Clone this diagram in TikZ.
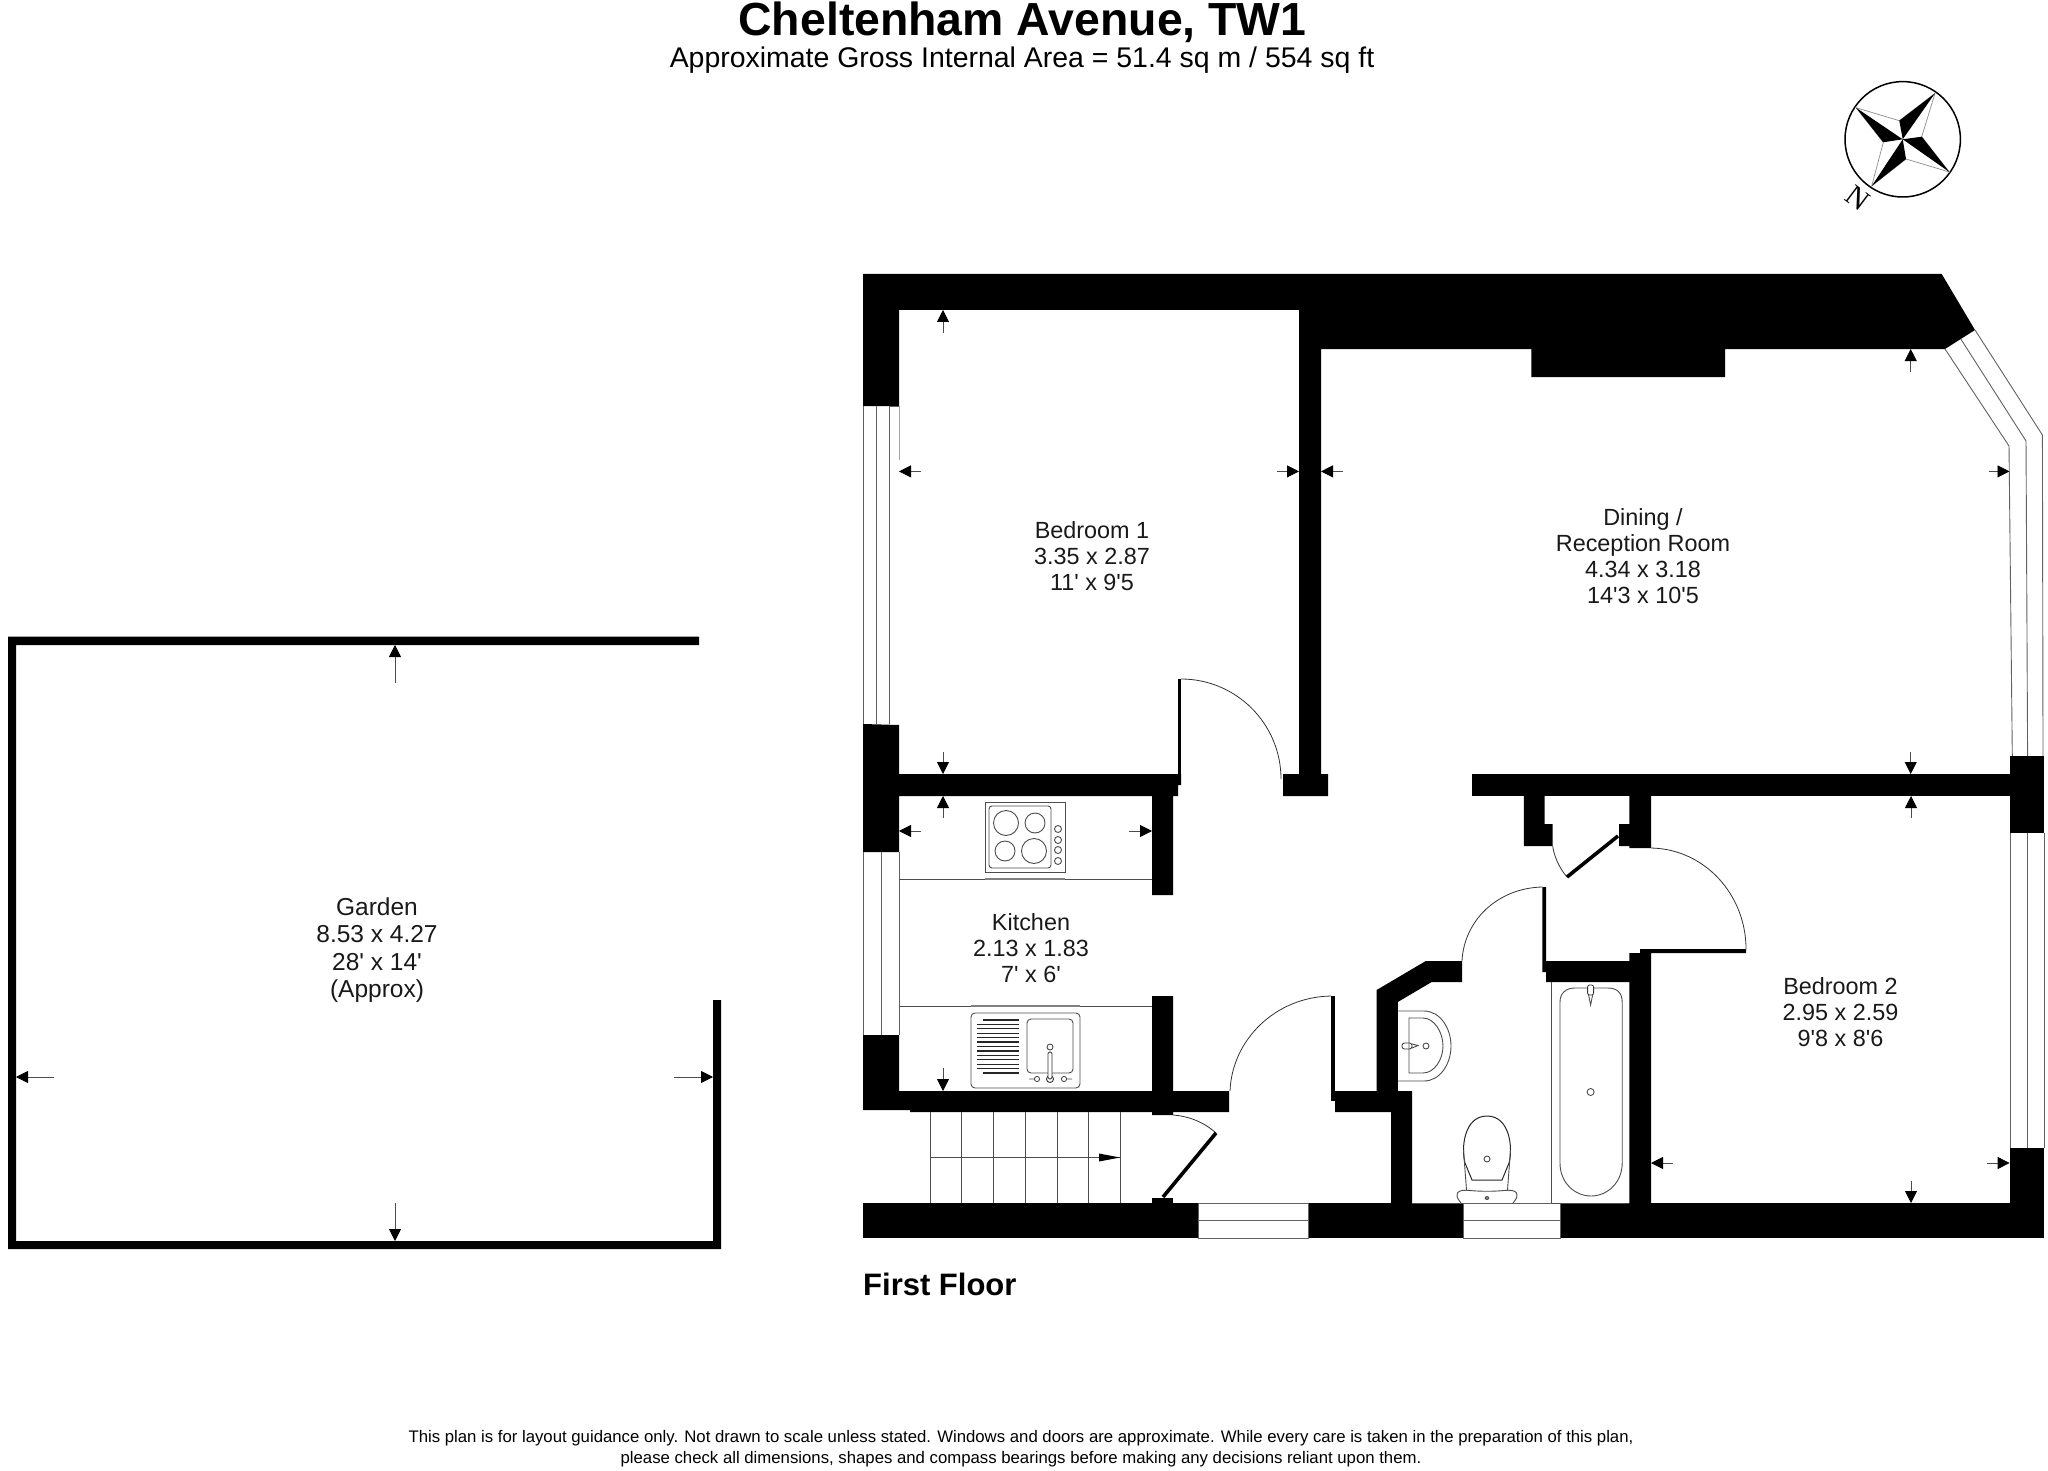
\documentclass[tikz,border=0pt]{standalone}
\usepackage{fontspec}
\setmainfont{Liberation Sans}
\newfontfamily\plainsans{Liberation Sans}
\newfontfamily\serifN{Liberation Serif}
\usetikzlibrary{arrows.meta}
\tikzset{
  wall/.style={fill=black,draw=none},
  thin line/.style={draw=black!62,line width=0.9pt},
  fix line/.style={draw=black!70,line width=0.9pt},
  door arc/.style={draw=black!80,line width=0.8pt},
  leaf/.style={draw=black,line width=3.6pt},
  dim/.style={draw=black!70,line width=0.8pt,-{Triangle[length=12pt,width=12pt,color=black]}},
  label/.style={align=center,font=\plainsans\fontsize{23.4}{26}\selectfont,inner sep=0pt,text=black!90},
}
\begin{document}
\begin{tikzpicture}[x=1pt,y=-1pt]
\useasboundingbox (0,0) rectangle (2048,1471);
% Headings
\node[inner sep=0pt,font=\bfseries\fontsize{46.4}{50}\selectfont] (title) at (1022.5,22) {Cheltenham Avenue, TW1};
\node[inner sep=0pt,font=\fontsize{28.45}{32}\selectfont] (sub) at (1022,60.5) {Approximate Gross Internal Area = 51.4 sq m / 554 sq ft};
\node[inner sep=0pt,anchor=west,font=\bfseries\fontsize{31}{34}\selectfont] (floor) at (863,1284) {First Floor};
\node[inner sep=0pt,align=center,font=\fontsize{16.75}{21}\selectfont] (foot) at (1021,1448.6) {This plan is for layout guidance only. Not drawn to scale unless stated. Windows and doors are approximate. While every care is taken in the preparation of this plan,\\ please check all dimensions, shapes and compass bearings before making any decisions reliant upon them.};
% Compass
\coordinate (cc) at (1902.7,139.3);
\draw[black,line width=1.5pt] (cc) circle[radius=57.7];
\draw[black!45,line width=0.7pt] (1935,93.3)--(1921.7,136.7)--(1949.3,172)--(1906,159)--(1871.7,186)--(1883.3,142.3)--(1856,107.7)--(1899.3,120.7)--cycle;
\fill (1935,93.3)--(1899.3,120.7)--(cc)--cycle;
\fill (1949.3,172)--(1921.7,136.7)--(cc)--cycle;
\fill (1871.7,186)--(1906,159)--(cc)--cycle;
\fill (1856,107.7)--(1883.3,142.3)--(cc)--cycle;
\node[inner sep=0pt,rotate=-37,font=\serifN\fontsize{29.5}{30}\selectfont] (north) at (1857.7,198.3) {N};
% Garden
\fill[wall] (8,636.7)--(699,636.7)--(699,645)--(16,645)--(16,1241)--(713,1241)--(713,1000)--(721,1000)--(721,1249)--(8,1249)--cycle;
% Main walls
\fill[wall] (863,274)--(1941.7,274)--(1975,330)--(1945,349)--(1725,349)--(1725,377)--(1531.4,377)--(1531.4,349)--(1321,349)--(1321,774)--(1328,774)--(1328,796)--(1283,796)--(1283,774)--(1299,774)--(1299,310)--(899,310)--(899,406)--(863,406)--cycle;
\fill[wall] (863,724)--(899,725)--(899,774)--(1181,774)--(1181,785)--(1178,785)--(1178,796)--(1173,796)--(1173,895)--(1152,895)--(1152,796)--(899,796)--(899,852)--(863,852)--cycle;
\fill[wall] (1178,679) rectangle (1181,785);
\fill[wall] (863,1035)--(899,1035)--(899,1091)--(1152,1091)--(1152,996)--(1173,996)--(1173,1091)--(1229,1091)--(1229,1112)--(1173,1112)--(1173,1115)--(1152,1115)--(1152,1112)--(910,1112)--(910,1110)--(863,1110)--cycle;
\fill[wall] (1331,996) rectangle (1335,1101);
\fill[wall] (1335,1091)--(1376.6,1091)--(1376.6,990)--(1425.8,961)--(1462,961)--(1462,982)--(1431.7,982)--(1397.8,1002)--(1397.8,1091)--(1412,1091)--(1412,1203)--(1391,1203)--(1391,1112)--(1335,1112)--cycle;
\fill[wall] (863,1203) rectangle (1198,1238);
\fill[wall] (1308,1203) rectangle (1463,1238);
\fill[wall] (1560,1203) rectangle (2044.4,1238);
\fill[wall] (1152,1198) rectangle (1173,1203);
\fill[wall] (2009.6,1148) rectangle (2044.4,1203);
\fill[wall] (2009.6,756) rectangle (2044.4,833);
\fill[wall] (1472,774) rectangle (2010,796);
\fill[wall] (1523.8,796)--(1544.5,796)--(1544.5,824)--(1552.7,824)--(1552.7,846)--(1523.8,846)--cycle;
\fill[wall] (1629.4,796)--(1651,796)--(1651,848)--(1629.4,848)--(1629.4,846)--(1619,846)--(1619,824)--(1629.4,824)--cycle;
\fill[wall] (1542.3,887)--(1546,887)--(1546,961)--(1629.4,961)--(1629.4,953)--(1640,953)--(1640,949)--(1746,949)--(1746,953)--(1651,953)--(1651,1203)--(1629.4,1203)--(1629.4,982)--(1546,982)--(1546,972)--(1542.3,972)--cycle;
% Windows
\draw[thin line] (863,406)--(863,724) (876,406)--(876,724) (889,406)--(889,724) (889,406)--(899,406);
\draw[black!35,line width=0.7pt] (899,406)--(899,460);
\draw[thin line] (863,852)--(863,1035) (881,852)--(881,1035) (899,852)--(899,1035);
\draw[thin line] (2010,833)--(2010,1148) (2027,833)--(2027,1148) (2044,833)--(2044,1148);
\draw[thin line] (1198,1203) rectangle (1308,1238) (1198,1220)--(1308,1220);
\draw[thin line] (1463,1203) rectangle (1560,1238) (1463,1220)--(1560,1220);
\draw[thin line] (1945,349)--(2009,446)--(2012.3,756);
\draw[thin line] (1960.8,339)--(2026,441)--(2027.6,756);
\draw[thin line] (1975,330)--(2042.4,435)--(2043,756);
% Doors
\draw[door arc] (1181,679) arc[start angle=-90,end angle=0,radius=100];
\draw[door arc] (1230,1091) .. controls (1232,1040) and (1275,997) .. (1331,996);
\draw[door arc] (1173,1115) .. controls (1188,1116) and (1204,1122) .. (1216,1133);
\draw[leaf] (1216,1133)--(1163,1197);
\draw[door arc] (1651,848) .. controls (1705,849) and (1746,895) .. (1746,949);
\draw[door arc] (1462,961) .. controls (1464,920) and (1498,888) .. (1542.3,887);
\draw[door arc] (1552.7,846) .. controls (1553.7,855) and (1559,868) .. (1567,877);
\draw[leaf] (1618,836)--(1567,877);
% Stairs
\draw[fix line] (930.4,1112)--(930.4,1203) (961.8,1112)--(961.8,1203) (993.6,1112)--(993.6,1203) (1025,1112)--(1025,1203) (1057,1112)--(1057,1203) (1088.6,1112)--(1088.6,1203) (1120.4,1112)--(1120.4,1203);
\draw[fix line] (930.4,1157.5)--(1120.4,1157.5);
\fill (1099,1153.5)--(1120,1157.5)--(1099,1161.5)--cycle;
% Kitchen fittings
\draw[fix line] (899,879.5)--(1152,879.5) (899,1006)--(1152,1006);
\draw[black!50,line width=2pt] (985,878.5)--(1065,878.5) (971,1005.5)--(1080,1005.5);
\draw[fix line] (985,802) rectangle (1065,872);
\draw[fix line,rounded corners=3pt] (989,806) rectangle (1051,868);
\draw[fix line] (1006,823) circle[radius=12.5] (1035,823) circle[radius=10] (1005,851) circle[radius=10] (1034,851) circle[radius=12.5];
\draw[fix line] (1058,829) circle[radius=3.5] (1058,840) circle[radius=3.5] (1058,850) circle[radius=3.5] (1058,861) circle[radius=3.5];
\draw[fix line,rounded corners=4pt] (971,1013) rectangle (1080,1088);
\draw[fix line,rounded corners=4pt] (1027,1019) rectangle (1073,1073);
\draw[black!85,line width=1.1pt] (983,1020)--(1019,1020) (977,1024.4)--(1019,1024.4) (977,1028.8)--(1019,1028.8) (977,1033.2)--(1019,1033.2) (977,1037.6)--(1019,1037.6) (977,1042)--(1019,1042) (977,1046.5)--(1019,1046.5) (977,1051)--(1019,1051) (977,1055.4)--(1019,1055.4) (977,1059.8)--(1019,1059.8) (977,1064.2)--(1019,1064.2) (977,1068.6)--(1019,1068.6) (983,1073)--(1019,1073);
\draw[fix line] (1050,1047) circle[radius=3];
\draw[fill=white,draw=black!80,line width=0.9pt] (1050,1079) circle[radius=3.5];
\draw[fill=white,draw=black!80,line width=0.9pt,rounded corners=1.5pt] (1048,1052) rectangle (1052,1079);
\draw[fix line] (1037,1079) circle[radius=2.6] (1064,1079) circle[radius=2.6] (1034.5,1079)--(1029,1079) (1066.5,1079)--(1072,1079);
% Bathroom fittings
\draw[fix line] (1551.5,982)--(1551.5,1203) (1412,1203)--(1463,1203);
\draw[fix line] (1551.5,1203)--(1629.4,1203);
\draw[fix line] (1575,988)--(1608,988) .. controls (1617,988) and (1622.2,993) .. (1622.2,1002) -- (1622.2,1163) .. controls (1622.2,1183) and (1607,1196) .. (1591,1196) .. controls (1575,1196) and (1560,1183) .. (1560,1163) -- (1560,1002) .. controls (1560,993) and (1566,988) .. (1575,988) -- cycle;
\draw[fill=white,draw=black!80,line width=0.8pt,rounded corners=2pt] (1587.6,985) rectangle (1593.6,995);
\draw[fix line] (1588.6,995)--(1590.6,1005)--(1592.6,995);
\draw[fix line] (1590.6,1092) circle[radius=3.5];
\draw[fix line] (1398,1011)--(1424,1011) .. controls (1440,1011) and (1451,1028) .. (1451,1046) .. controls (1451,1064) and (1440,1081) .. (1424,1081) -- (1398,1081);
\draw[fix line] (1409,1018)--(1423,1018) .. controls (1434,1018) and (1443,1032) .. (1443,1046) .. controls (1443,1060) and (1434,1073) .. (1423,1073) -- (1409,1073) -- cycle;
\draw[fix line] (1426,1046) circle[radius=3];
\draw[fill=white,draw=black!80,line width=0.8pt,rounded corners=2.5pt] (1402,1043) rectangle (1412,1049);
\draw[fix line] (1412,1044)--(1418,1045.5)--(1412,1048) (1409,1043)--(1409,1049);
\draw[black!85,line width=1pt] (1472,1180)--(1502,1180)--(1509,1163) .. controls (1513,1148) and (1510,1116) .. (1487,1116) .. controls (1464,1116) and (1461,1148) .. (1465,1163) -- cycle;
\draw[fix line] (1463.5,1150)--(1466.5,1190) (1510.5,1150)--(1507.5,1190);
\draw[fix line] (1487,1159) circle[radius=3];
\draw[fix line] (1461,1203) .. controls (1458,1199) and (1456,1197) .. (1457.5,1193) .. controls (1459,1190) and (1465,1190) .. (1470,1190.5) .. controls (1480,1191.5) and (1494,1191.5) .. (1504,1190.5) .. controls (1509,1190) and (1515,1190) .. (1516.5,1193) .. controls (1518,1197) and (1516,1199) .. (1513,1203);
\draw[fill=black!50,draw=black!80,line width=0.6pt] (1487,1198) ellipse[x radius=2,y radius=1.5];
% Dimension arrows
\draw[dim] (943,332.5)--(943,310);
\draw[dim] (943,752)--(943,774);
\draw[dim] (921,471.4)--(899,471.4);
\draw[dim] (1277,471.4)--(1299,471.4);
\draw[dim] (1343,471.4)--(1321,471.4);
\draw[dim] (1988.5,471.4)--(2009.5,471.4);
\draw[dim] (1910.7,372)--(1910.7,349);
\draw[dim] (1910.7,752)--(1910.7,774);
\draw[dim] (943,818)--(943,796);
\draw[dim] (921,831)--(899,831);
\draw[dim] (1129,831)--(1152,831);
\draw[dim] (943,1068)--(943,1091);
\draw[dim] (1911,818)--(1911,796);
\draw[dim] (1911,1181)--(1911,1203);
\draw[dim] (1673,1163)--(1651,1163);
\draw[dim] (1987,1163)--(2009.6,1163);
\draw[dim] (395,683)--(395,645);
\draw[dim] (395,1203)--(395,1241);
\draw[dim] (54,1077)--(16,1077);
\draw[dim] (674,1077)--(713,1077);
% Room labels
\node[label] (bed1) at (1092,556) {Bedroom 1\\3.35 x 2.87\\11' x 9'5};
\node[label] (dining) at (1643,556.5) {Dining /\\Reception Room\\4.34 x 3.18\\14'3 x 10'5};
\node[label] (kitchen) at (1031,948) {Kitchen\\2.13 x 1.83\\7' x 6'};
\node[label] (bed2) at (1840.5,1012) {Bedroom 2\\2.95 x 2.59\\9'8 x 8'6};
\node[label,font=\plainsans\fontsize{24.5}{27.5}\selectfont] (garden) at (377,950) {Garden\\8.53 x 4.27\\28' x 14'\\(Approx)};
\end{tikzpicture}
\end{document}
